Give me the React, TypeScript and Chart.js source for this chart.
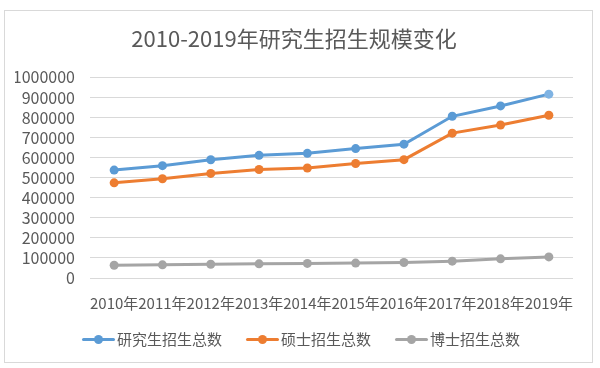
import React, { useEffect, useRef } from "react";
import { Chart, registerables } from "chart.js";

Chart.register(...registerables);

const categories = ["2010年", "2011年", "2012年", "2013年", "2014年", "2015年", "2016年", "2017年", "2018年", "2019年"];
const graduateTotal = [538000, 560000, 589700, 611400, 621300, 645100, 667100, 806100, 857800, 916500];
const masterTotal = [474400, 494600, 521300, 540900, 548600, 570600, 589800, 722200, 762500, 811300];
const doctorTotal = [63800, 65600, 68400, 70500, 72600, 74400, 77300, 83900, 95500, 105200];
const seriesNames = ["研究生招生总数", "硕士招生总数", "博士招生总数"];
const yTicks = [0, 100000, 200000, 300000, 400000, 500000, 600000, 700000, 800000, 900000, 1000000];

const COLORS = ["#5B9BD5", "#ED7D31", "#A5A5A5"];
const FONT = "'Noto Sans CJK SC', 'Noto Sans', sans-serif";
const TEXT = "#595959";

const frame = {
  id: "frame",
  beforeDraw(chart: any) {
    const ctx = chart.ctx;
    ctx.save();
    ctx.fillStyle = "#ffffff";
    ctx.fillRect(0, 0, chart.width, chart.height);
    ctx.strokeStyle = "#d9d9d9";
    ctx.lineWidth = 1;
    ctx.strokeRect(4.5, 10.5, 588, 352);
    ctx.restore();
  },
};

const customLegend = {
  id: "customLegend",
  afterDraw(chart: any) {
    const ctx = chart.ctx;
    const sets = chart.data.datasets;
    const fontSize = 15;
    const lineW = 33;
    const textGap = 2;
    const itemGap = 24;
    const cy = 339.5;
    ctx.save();
    ctx.font = `${fontSize}px ${FONT}`;
    const widths = sets.map((d: any) => lineW + textGap + ctx.measureText(d.label).width);
    const total = widths.reduce((a: number, b: number) => a + b, 0) + itemGap * (sets.length - 1);
    let x = (chart.width - total) / 2 + 1;
    sets.forEach((d: any, i: number) => {
      const color = d.borderColor;
      ctx.strokeStyle = color;
      ctx.lineWidth = 3;
      ctx.lineCap = "round";
      ctx.beginPath();
      ctx.moveTo(x + 1.5, cy);
      ctx.lineTo(x + lineW - 1.5, cy);
      ctx.stroke();
      ctx.fillStyle = color;
      ctx.beginPath();
      ctx.arc(x + lineW / 2, cy, 4.5, 0, Math.PI * 2);
      ctx.fill();
      ctx.fillStyle = TEXT;
      ctx.textBaseline = "middle";
      ctx.textAlign = "left";
      ctx.fillText(d.label, x + lineW + textGap, cy);
      x += widths[i] + itemGap;
    });
    ctx.restore();
  },
};

export default function App() {
  const ref = useRef<HTMLCanvasElement>(null);
  useEffect(() => {
    if (!ref.current) return;
    const data = [graduateTotal, masterTotal, doctorTotal];
    const chart = new Chart(ref.current, {
      type: "line",
      data: {
        labels: categories,
        datasets: data.map((d, i) => ({
          label: seriesNames[i],
          data: d,
          borderColor: COLORS[i],
          backgroundColor: COLORS[i],
          pointBackgroundColor: i === 0 ? d.map((_, j) => (j === d.length - 1 ? "#7FB3E3" : COLORS[0])) : COLORS[i],
          pointBorderColor: i === 0 ? d.map((_, j) => (j === d.length - 1 ? "#7FB3E3" : COLORS[0])) : COLORS[i],
          borderWidth: 3,
          pointRadius: 4.5,
          pointBorderWidth: 0,
          tension: 0,
        })),
      },
      plugins: [frame, customLegend],
      options: {
        responsive: false,
        animation: false,
        layout: { padding: { top: 25, left: 15, right: 27, bottom: 40 } },
        plugins: {
          title: {
            display: true,
            text: "2010-2019年研究生招生规模变化",
            color: TEXT,
            font: { family: FONT, size: 22, weight: "normal" },
            padding: { top: 0, bottom: 26 },
          },
          legend: { display: false },
          tooltip: { enabled: false },
        },
        scales: {
          x: {
            offset: true,
            grid: { display: false, drawTicks: false },
            border: { display: false },
            ticks: {
              autoSkip: false,
              maxRotation: 0,
              padding: 16,
              color: TEXT,
              font: { family: FONT, size: 15 },
            },
          },
          y: {
            min: 0,
            max: 1000000,
            afterBuildTicks(axis: any) {
              axis.ticks = yTicks.map((v) => ({ value: v }));
            },
            afterFit(axis: any) {
              axis.width = 75;
            },
            grid: { color: "#d9d9d9", lineWidth: 1, drawTicks: false },
            border: { display: false },
            ticks: {
              autoSkip: false,
              padding: 15,
              color: TEXT,
              font: { family: FONT, size: 16 },
              callback: (v: any) => String(v),
            },
          },
        },
      },
    } as any);
    return () => chart.destroy();
  }, []);
  return (
    <div style={{ position: "fixed", left: 0, top: 0, width: 600, height: 368 }}>
      <canvas ref={ref} width={600} height={368} style={{ display: "block" }} />
    </div>
  );
}
